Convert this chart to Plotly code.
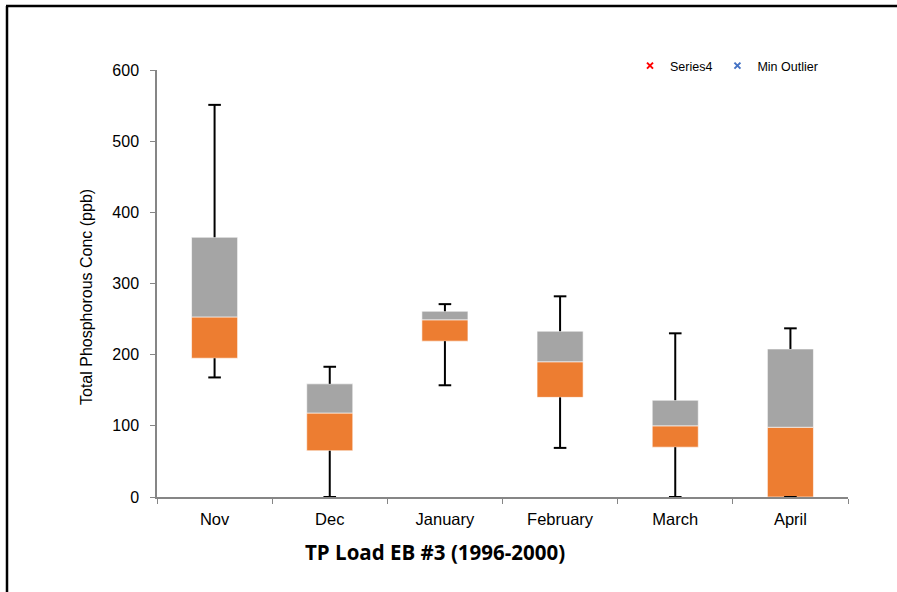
import plotly.graph_objects as go

months = ["Nov", "Dec", "January", "February", "March", "April"]
whisker_min = [168, 0, 157, 69, 0, 0]
q1 = [195, 65, 219, 140, 70, 0]
median = [253, 118, 249, 190, 100, 98]
q3 = [365, 159, 261, 233, 136, 208]
whisker_max = [551, 183, 271, 282, 230, 237]
series4 = [None] * 6
min_outlier = [None] * 6

y_ticks = [0, 100, 200, 300, 400, 500, 600]

ORANGE = "#ED7D31"
GRAY = "#A5A5A5"
AXIS = "#868686"

fig = go.Figure()

# lower part of box (Q1 -> median)
fig.add_trace(go.Bar(
    x=months, y=[m - a for m, a in zip(median, q1)], base=q1,
    marker=dict(color=ORANGE, line=dict(color="rgba(255,255,255,0.6)", width=1)),
    width=0.4, showlegend=False, name="Q1-Median"))
# upper part of box (median -> Q3)
fig.add_trace(go.Bar(
    x=months, y=[b - m for b, m in zip(q3, median)], base=median,
    marker=dict(color=GRAY, line=dict(color="rgba(255,255,255,0.6)", width=1)),
    width=0.4, showlegend=False, name="Median-Q3"))

# whisker lines
wx, wy = [], []
for m, lo, a, b, hi in zip(months, whisker_min, q1, q3, whisker_max):
    wx += [m, m, None, m, m, None]
    wy += [lo, a, None, b, hi, None]
fig.add_trace(go.Scatter(x=wx, y=wy, mode="lines",
                         line=dict(color="black", width=2),
                         showlegend=False, hoverinfo="skip"))
# whisker caps
fig.add_trace(go.Scatter(x=months + months, y=whisker_min + whisker_max, mode="markers",
                         marker=dict(symbol="line-ew", size=9,
                                     line=dict(color="black", width=2)),
                         showlegend=False, hoverinfo="skip"))

# outlier series (legend only)
fig.add_trace(go.Scatter(x=months, y=series4, mode="markers", name="Series4",
                         marker=dict(symbol="x-thin", size=6,
                                     line=dict(color="#FF0000", width=2))))
fig.add_trace(go.Scatter(x=months, y=min_outlier, mode="markers", name="Min Outlier",
                         marker=dict(symbol="x-thin", size=6,
                                     line=dict(color="#4472C4", width=2))))

L, R, T, B = 157, 49, 70, 95
W, H = 897, 592
pw, ph = W - L - R, H - T - B

def px_x(p):
    return (p - L) / pw

def px_y(p):
    return (H - B - p) / ph

fig.update_layout(
    width=W, height=H,
    margin=dict(l=L, r=R, t=T, b=B),
    paper_bgcolor="white", plot_bgcolor="white",
    barmode="overlay",
    font=dict(family="Liberation Sans, Arial, sans-serif", color="black", size=16),
    xaxis=dict(type="category", showgrid=False, showline=True, linecolor=AXIS,
               linewidth=1.5, ticks="outside", tickson="boundaries", ticklen=5,
               tickcolor=AXIS, tickwidth=1, tickfont=dict(size=16.5),
               ticklabelstandoff=6, range=[-0.5, 5.5]),
    yaxis=dict(range=[0, 600], tickvals=y_ticks, showgrid=False, showline=True,
               linecolor=AXIS, linewidth=1.5, ticks="outside", ticklen=5,
               tickcolor=AXIS, tickwidth=1, tickfont=dict(size=16),
               ticklabelstandoff=8, zeroline=False),
    legend=dict(orientation="h", x=px_x(630), y=px_y(66), xanchor="left",
                yanchor="middle", font=dict(size=12.5), bgcolor="rgba(0,0,0,0)",
                itemwidth=30, tracegroupgap=0),
    showlegend=True,
)

fig.add_annotation(text="Total Phosphorous Conc (ppb)", textangle=-90,
                   xref="paper", yref="paper", x=px_x(86), y=px_y(297),
                   showarrow=False, font=dict(size=16), xanchor="center", yanchor="middle")
fig.add_annotation(text="<b>TP Load EB #3 (1996-2000)</b>",
                   xref="paper", yref="paper", x=px_x(435), y=px_y(552),
                   showarrow=False, font=dict(size=20.5, family="Open Sans, Lato, sans-serif"),
                   xanchor="center", yanchor="middle")

# outer chart frame (top and left edges)
fig.add_shape(type="line", xref="paper", yref="paper",
              x0=px_x(6), x1=px_x(897), y0=px_y(6), y1=px_y(6),
              line=dict(color="black", width=2.5))
fig.add_shape(type="line", xref="paper", yref="paper",
              x0=px_x(7), x1=px_x(7), y0=px_y(6), y1=px_y(592),
              line=dict(color="black", width=2.5))

fig.write_html("out.html", config={"displayModeBar": False},
               post_script="document.body.style.margin='0';document.body.style.overflow='hidden';")
